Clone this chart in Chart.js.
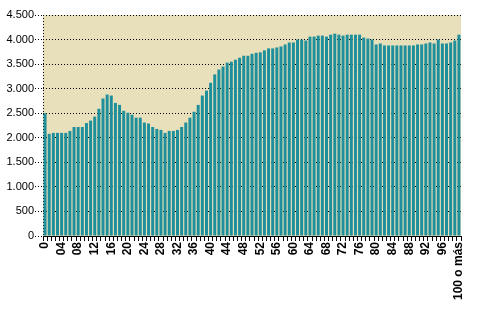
<!DOCTYPE html>
<html>
<head>
<meta charset="utf-8">
<script src="https://cdn.jsdelivr.net/npm/chart.js@4/dist/chart.umd.min.js"></script>
<style>
  body { margin: 0; background: #fff; }
  #wrap { width: 500px; height: 312px; }
</style>
</head>
<body>
<div id="wrap"><canvas id="chart" width="500" height="312"></canvas></div>
<script>
// Edades (categorías del eje X)
const edades = [
  "0", "01", "02", "03", "04", "05", "06", "07", "08", "09",
  "10", "11", "12", "13", "14", "15", "16", "17", "18", "19",
  "20", "21", "22", "23", "24", "25", "26", "27", "28", "29",
  "30", "31", "32", "33", "34", "35", "36", "37", "38", "39",
  "40", "41", "42", "43", "44", "45", "46", "47", "48", "49",
  "50", "51", "52", "53", "54", "55", "56", "57", "58", "59",
  "60", "61", "62", "63", "64", "65", "66", "67", "68", "69",
  "70", "71", "72", "73", "74", "75", "76", "77", "78", "79",
  "80", "81", "82", "83", "84", "85", "86", "87", "88", "89",
  "90", "91", "92", "93", "94", "95", "96", "97", "98", "99",
  "100 o más"
];

// Valores, por tramos
const valores0a24 = [
  2500, 2080, 2100, 2100, 2100, 2100, 2140, 2220, 2220, 2220,
  2300, 2350, 2430, 2590, 2800, 2880, 2860, 2710, 2670, 2550,
  2510, 2470, 2410, 2410, 2310
];
const valores25a49 = [
  2290, 2220, 2180, 2160, 2100, 2140, 2140, 2160, 2220, 2310,
  2410, 2530, 2670, 2860, 2960, 3120, 3290, 3390, 3450, 3530,
  3550, 3590, 3630, 3670, 3670
];
const valores50a74 = [
  3710, 3730, 3740, 3780, 3820, 3820, 3840, 3860, 3900, 3940,
  3940, 4000, 4000, 3980, 4060, 4060, 4080, 4080, 4060, 4100,
  4120, 4100, 4080, 4100, 4100
];
const valores75a100 = [
  4100, 4100, 4040, 4020, 4000, 3900, 3920, 3880, 3880, 3880,
  3880, 3880, 3880, 3880, 3880, 3900, 3900, 3920, 3940, 3920,
  4000, 3920, 3920, 3940, 3980, 4100
];
const valores = valores0a24.concat(valores25a49, valores50a74, valores75a100);

// Marcas del eje Y
const yMax = 4500;
const yPaso = 500;

// Fondo beige del área de trazado
const fondoArea = {
  id: "fondoArea",
  beforeDraw(chart) {
    const { ctx, chartArea } = chart;
    ctx.save();
    ctx.fillStyle = "#e8e0ba";
    ctx.fillRect(chartArea.left, chartArea.top, chartArea.right - chartArea.left, chartArea.bottom - chartArea.top);
    ctx.restore();
  },
};

const formatoMiles = (v) => String(v).replace(/\B(?=(\d{3})+(?!\d))/g, ".");

new Chart(document.getElementById("chart"), {
  type: "bar",
  data: {
    labels: edades,
    datasets: [
      {
        data: valores,
        backgroundColor: "#1f8f9c",
        borderWidth: 0,
        barPercentage: 0.72,
        categoryPercentage: 1,
      },
    ],
  },
  options: {
    responsive: false,
    animation: false,
    layout: { padding: { top: 15, right: 39, left: 0, bottom: 0 } },
    plugins: {
      legend: { display: false },
      tooltip: { enabled: false },
    },
    scales: {
      x: {
        grid: {
          offset: true,
          drawOnChartArea: true,
          color: (c) => (c.index === 0 ? "#000" : "rgba(0,0,0,0)"),
          drawTicks: true,
          tickColor: "#000",
          tickLength: 5,
        },
        border: { display: true, color: "#000", width: 1, dash: [1, 2] },
        ticks: {
          autoSkip: false,
          maxRotation: 90,
          minRotation: 90,
          padding: 1,
          color: "#000",
          font: { family: "Liberation Sans, Arial, sans-serif", size: 12, weight: "bold" },
          callback: function (val, i) {
            return i % 4 === 0 ? this.getLabelForValue(val) : "";
          },
        },
        afterFit: (scale) => {
          scale.height = 76;
        },
      },
      y: {
        min: 0,
        max: yMax,
        ticks: {
          stepSize: yPaso,
          padding: 1,
          color: "#000",
          font: { family: "Liberation Sans, Arial, sans-serif", size: 11 },
          callback: (v) => formatoMiles(v),
        },
        grid: {
          color: "#000",
          tickLength: 8,
          tickColor: "#000",
          tickBorderDash: [1, 2],
        },
        border: { display: false, dash: [1, 2] },
        afterFit: (scale) => {
          scale.width = 43;
        },
      },
    },
  },
  plugins: [fondoArea],
});
</script>
</body>
</html>
